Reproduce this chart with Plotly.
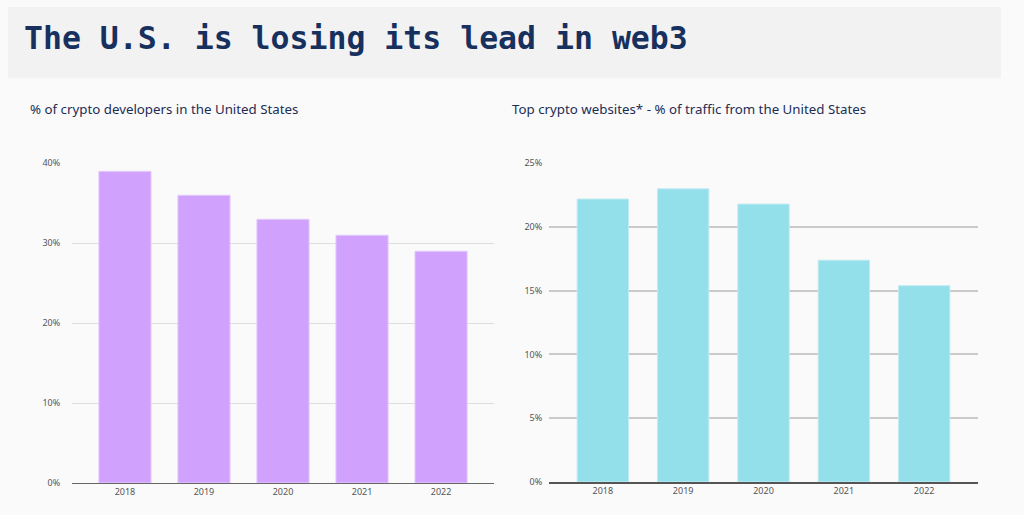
import plotly.graph_objects as go

years = ["2018", "2019", "2020", "2021", "2022"]
dev_share = [39.0, 36.0, 33.0, 31.0, 29.0]
traffic_share = [22.2, 23.0, 21.8, 17.4, 15.4]

left_ticks = [0, 10, 20, 30, 40]
left_ticklabels = ["0%", "10%", "20%", "30%", "40%"]
right_ticks = [0, 5, 10, 15, 20, 25]
right_ticklabels = ["0%", "5%", "10%", "15%", "20%", "25%"]

title_text = "The U.S. is losing its lead in web3"
left_title = "% of crypto developers in the United States"
right_title = "Top crypto websites* - % of traffic from the United States"

W, H = 1024, 515


def Y(r):
    # paper fraction for a target pixel row in the photographed page
    return max(0.0, min(1.0, 1 - (r - 7) / 501))


fig = go.Figure()

fig.add_trace(go.Bar(x=years, y=dev_share, marker=dict(color="#d0a1fd", line=dict(color="#e4ccfb", width=1)),
                     width=0.66, xaxis="x", yaxis="y", showlegend=False))
fig.add_trace(go.Bar(x=years, y=traffic_share, marker=dict(color="#93dfea", line=dict(color="#c3ecf1", width=1)),
                     width=0.64, xaxis="x2", yaxis="y2", showlegend=False))

tickfont = dict(family="Noto Sans", size=9, color="#555555")

fig.update_layout(
    width=W, height=H, autosize=False,
    margin=dict(l=0, r=0, t=0, b=0, pad=0),
    paper_bgcolor="#fafafa", plot_bgcolor="#fafafa",
    xaxis=dict(domain=[72 / W, 494 / W], range=[-0.67, 4.67], anchor="y", type="category",
               showgrid=False, showline=True, linecolor="#666666", linewidth=1,
               ticks="", tickfont=tickfont),
    yaxis=dict(domain=[Y(482), Y(163)], range=[0, 40], anchor="x",
               tickvals=left_ticks, ticktext=left_ticklabels, showgrid=True,
               gridcolor="#dedede", gridwidth=1, zeroline=False, showline=False,
               tickfont=tickfont, ticks="outside", ticklen=9, tickcolor="rgba(0,0,0,0)"),
    xaxis2=dict(domain=[549 / W, 978 / W], range=[-0.67, 4.67], anchor="y2", type="category",
                showgrid=False, showline=True, linecolor="#555555", linewidth=1.5,
                ticks="", tickfont=tickfont),
    yaxis2=dict(domain=[Y(481), Y(163)], range=[0, 25], anchor="x2",
                tickvals=right_ticks, ticktext=right_ticklabels, showgrid=True,
                gridcolor="#cacaca", gridwidth=1.5, zeroline=False, showline=False,
                tickfont=tickfont, ticks="outside", ticklen=4, tickcolor="rgba(0,0,0,0)"),
    bargap=0.3,
    shapes=[dict(type="rect", xref="paper", yref="paper",
                 x0=8 / W, x1=1001 / W, y0=Y(4), y1=Y(78),
                 fillcolor="#f2f2f2", line=dict(width=0), layer="below")],
    annotations=[
        dict(text="<b>" + title_text + "</b>", xref="paper", yref="paper",
             x=22 / W, y=Y(38), xanchor="left", yanchor="middle", showarrow=False,
             font=dict(family="DejaVu Sans Mono", size=31.5, color="#17305e")),
        dict(text=left_title, xref="paper", yref="paper",
             x=28 / W, y=Y(109), xanchor="left", yanchor="middle", showarrow=False,
             font=dict(family="Noto Sans", size=13.3, color="#1c2d55")),
        dict(text=right_title, xref="paper", yref="paper",
             x=510 / W, y=Y(109), xanchor="left", yanchor="middle", showarrow=False,
             font=dict(family="Noto Sans", size=13.3, color="#1c2d55")),
    ],
)

fig.write_html("out.html")
